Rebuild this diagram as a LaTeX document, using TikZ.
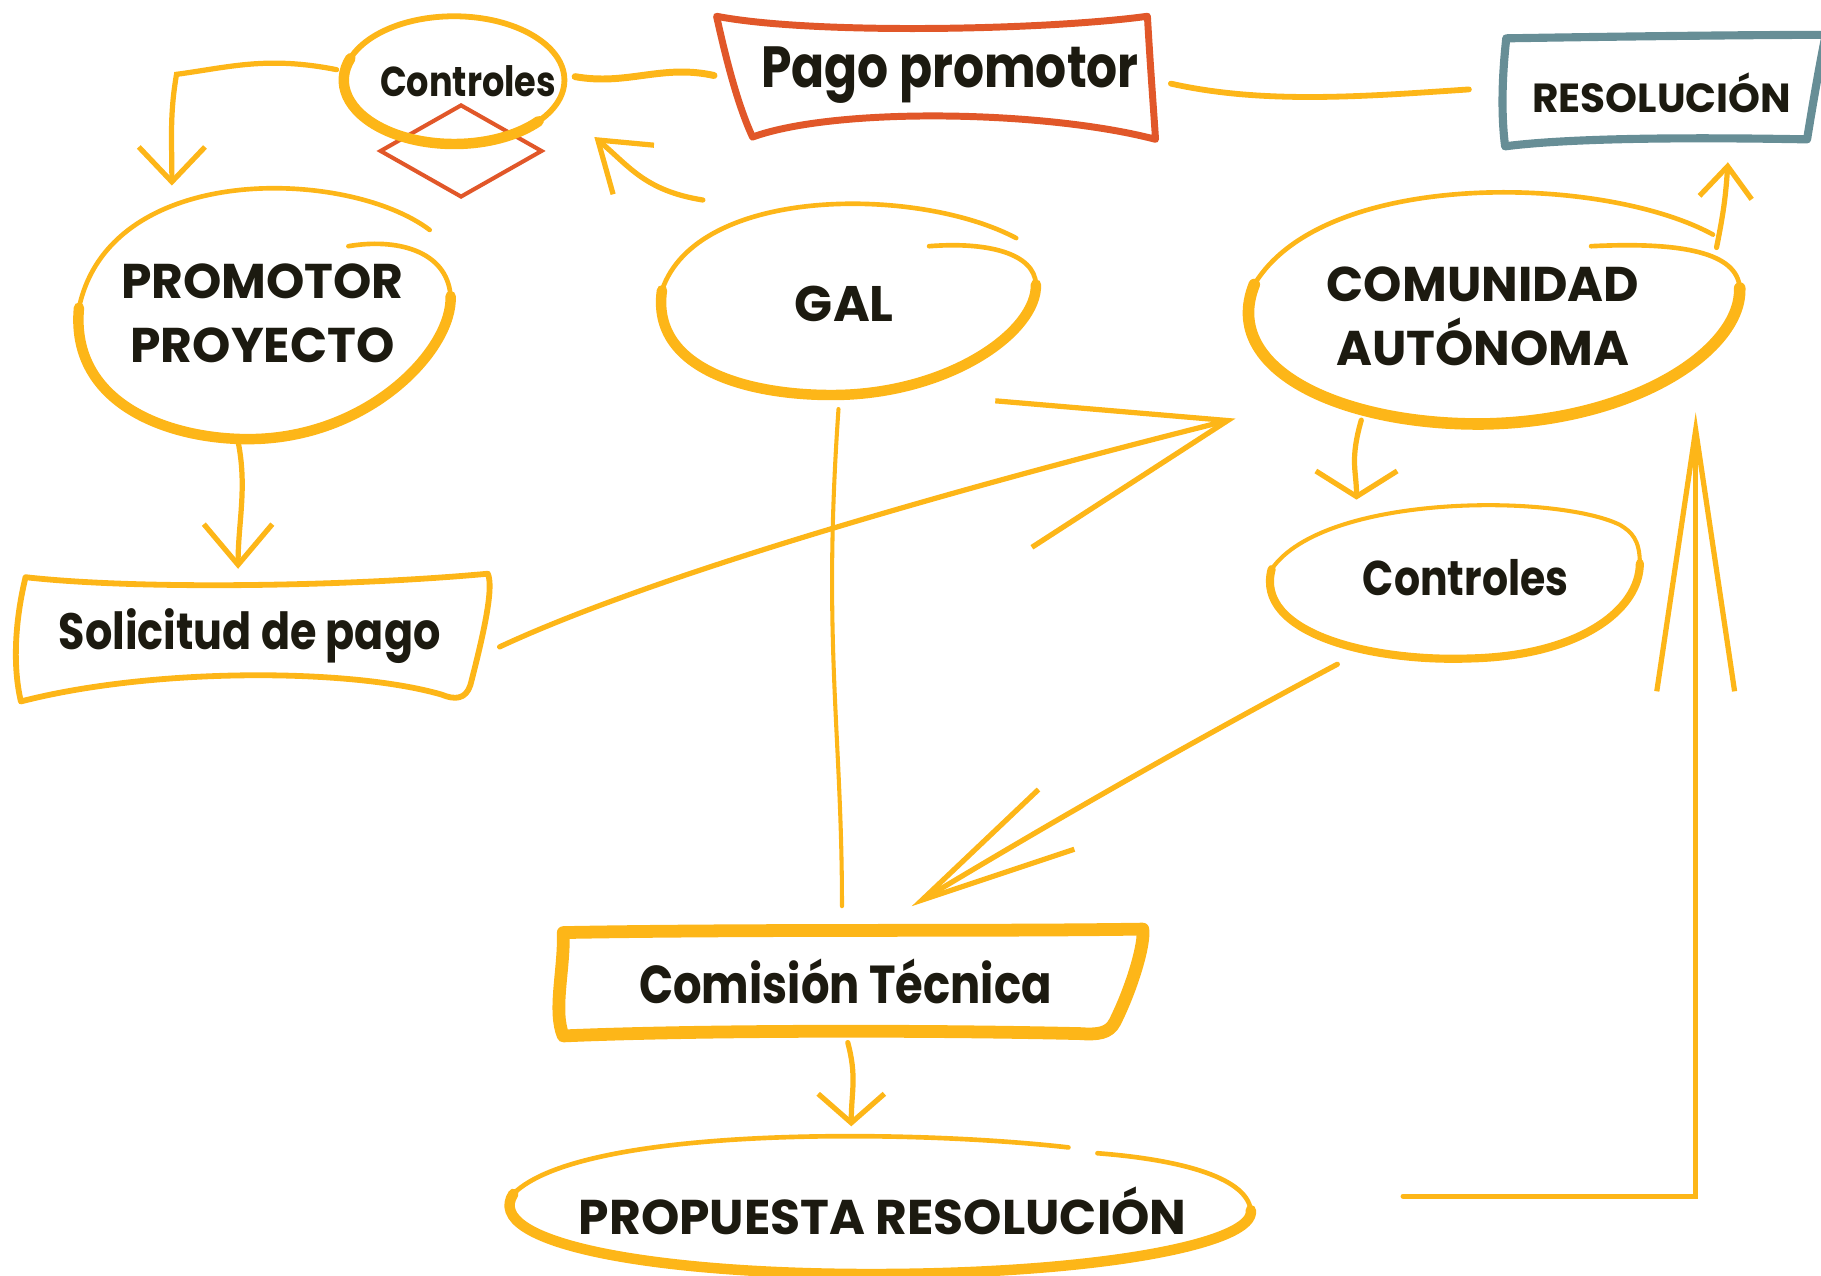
\documentclass[tikz,border=0pt]{standalone}
\usepackage{fontspec}
\setmainfont{Poppins}
\newfontfamily\narrow{Poppins}[FakeStretch=0.84]
\usetikzlibrary{arrows.meta,shapes.geometric}
\definecolor{gold}{RGB}{253,182,24}
\definecolor{brick}{RGB}{225,87,41}
\definecolor{slate}{RGB}{103,142,150}
\definecolor{ink}{RGB}{28,26,16}

\begin{document}
\begin{tikzpicture}[x=1pt,y=-1pt,
 lbl/.style={text=ink,inner sep=0pt,align=center},
 oval/.style={lbl,ellipse},
 box/.style={lbl,rectangle},
 rim/.style={draw=#1,line width=4pt,line cap=round,line join=round},
 link/.style={draw=gold,line width=4.5pt,line cap=round},
 head/.style={-{Straight Barb[#1]}}]
\useasboundingbox (0,0) rectangle (1568,1098);

\node [box,minimum width=190pt,minimum height=110pt,font=\narrow\fontsize{36}{42}\selectfont\bfseries] (ctrlA) at (403,70) {Controles};
\node [diamond,draw=brick,line width=3.5pt,minimum width=140pt,minimum height=80pt,inner sep=0pt] (check) at (397,130) {};
\node [box,minimum width=370pt,minimum height=105pt,font=\narrow\fontsize{50}{56}\selectfont\bfseries] (pago) at (818,65) {Pago promotor};
\node [box,minimum width=268pt,minimum height=95pt,font=\fontsize{35}{40}\selectfont\bfseries] (resol) at (1431,80) {RESOLUCIÓN};
\node [oval,minimum width=322pt,minimum height=218pt,font=\fontsize{42}{55}\selectfont\bfseries] (promotor) at (226,270) {PROMOTOR\\PROYECTO};
\node [oval,minimum width=325pt,minimum height=168pt,font=\fontsize{43}{50}\selectfont\bfseries] (gal) at (727,262) {GAL};
\node [oval,minimum width=430pt,minimum height=200pt,font=\fontsize{42}{55}\selectfont\bfseries] (comunidad) at (1277,272) {COMUNIDAD\\AUTÓNOMA};
\node [oval,minimum width=322pt,minimum height=135pt,font=\narrow\fontsize{42}{48}\selectfont\bfseries] (ctrlB) at (1262,497) {Controles};
\node [box,minimum width=410pt,minimum height=108pt,font=\narrow\fontsize{44}{50}\selectfont\bfseries] (solicitud) at (215,548) {Solicitud de pago};
\node [box,minimum width=510pt,minimum height=95pt,font=\narrow\fontsize{46}{52}\selectfont\bfseries] (comision) at (728,845) {Comisión Técnica};
\node [oval,minimum width=640pt,minimum height=118pt,font=\fontsize{42}{48}\selectfont\bfseries] (propuesta) at (760,1043) {PROPUESTA RESOLUCIÓN};

\draw[rim=gold,line width=5pt] (391,69) ellipse [x radius=95,y radius=55];
\draw[rim=gold,line width=9pt] (391,69) ++(40:95 and 55) arc [start angle=40,end angle=200,x radius=95,y radius=55];
\draw[rim=gold,line width=4pt] (370,198) .. controls (300,145) and (95,138) .. (68,265) .. controls (60,350) and (150,380) .. (220,378) .. controls (320,375) and (390,300) .. (388,255) .. controls (385,215) and (340,205) .. (300,212);
\draw[rim=gold,line width=9pt] (68,265) .. controls (60,350) and (150,380) .. (220,378) .. controls (320,375) and (390,300) .. (388,255);
\draw[rim=gold,line width=4pt] (875,205) .. controls (790,160) and (600,160) .. (570,250) .. controls (560,320) and (650,342) .. (725,340) .. controls (820,337) and (893,285) .. (892,245) .. controls (891,218) and (850,208) .. (800,212);
\draw[rim=gold,line width=9pt] (570,250) .. controls (560,320) and (650,342) .. (725,340) .. controls (820,337) and (893,285) .. (892,245);
\draw[rim=gold,line width=4pt] (1475,202) .. controls (1380,150) and (1140,145) .. (1080,245) .. controls (1050,320) and (1160,367) .. (1280,365) .. controls (1410,362) and (1500,300) .. (1498,248) .. controls (1496,218) and (1450,208) .. (1370,212);
\draw[rim=gold,line width=10pt] (1080,245) .. controls (1050,320) and (1160,367) .. (1280,365) .. controls (1410,362) and (1500,300) .. (1498,248);
\draw[rim=gold,line width=3.5pt] (1395,452) .. controls (1340,425) and (1140,425) .. (1095,490) .. controls (1080,545) and (1180,570) .. (1265,567) .. controls (1360,565) and (1412,525) .. (1412,485) .. controls (1412,465) and (1405,458) .. (1395,452);
\draw[rim=gold,line width=7pt] (1095,490) .. controls (1080,545) and (1180,570) .. (1265,567) .. controls (1360,565) and (1412,525) .. (1412,485);
\draw[rim=gold,line width=4pt] (920,988) .. controls (780,972) and (500,970) .. (442,1028) .. controls (415,1070) and (560,1097) .. (750,1097) .. controls (950,1097) and (1082,1070) .. (1077,1042) .. controls (1073,1012) and (1010,998) .. (945,993);
\draw[rim=gold,line width=9pt] (442,1028) .. controls (415,1070) and (560,1097) .. (750,1097) .. controls (950,1097) and (1082,1070) .. (1077,1042);

\draw[rim=brick,line width=6pt] (617,14) .. controls (700,30) and (900,26) .. (988,14) .. controls (990,50) and (993,90) .. (995,120) .. controls (900,95) and (720,92) .. (648,118) .. controls (635,90) and (625,50) .. cycle;
\draw[rim=slate,line width=7pt] (1297,33) .. controls (1420,31) and (1520,30) .. (1572,30) .. controls (1566,60) and (1560,95) .. (1556,120) .. controls (1450,118) and (1350,119) .. (1296,126) .. controls (1292,95) and (1294,60) .. cycle;
\draw[rim=gold,line width=5pt] (22,497) .. controls (120,508) and (300,505) .. (420,494) .. controls (425,505) and (418,540) .. (405,590) .. controls (401,602) and (392,603) .. (380,598) .. controls (300,575) and (130,575) .. (18,604) .. controls (10,570) and (14,530) .. cycle;
\draw[rim=gold,line width=11pt] (485,803) .. controls (650,800) and (850,802) .. (984,800) .. controls (986,812) and (975,850) .. (960,880) .. controls (955,890) and (945,891) .. (930,890) .. controls (800,887) and (600,887) .. (485,892) .. controls (476,870) and (486,835) .. cycle;

\draw[link,line width=6pt] ([shift={(-18,0)}]pago.west) .. controls +(-45,-10) and +(45,8) .. ([shift={(-3,-4)}]ctrlA.east);
\draw[link,head={length=30pt,width=57pt}] ([shift={(-18,-10)}]ctrlA.west) .. controls +(-60,-12) and +(45,-6) .. (152,64) .. controls +(-6,35) and +(0,-40) .. ([shift={(-78,-1)}]promotor.north);
\draw[link,head={length=40pt,width=55pt}] ([shift={(-47,-15)}]gal.135) .. controls +(-50,-8) and +(30,25) .. ([shift={(43,-12)}]check.east);
\draw[link,line width=5pt] ([shift={(5,7)}]pago.east) .. controls +(80,18) and +(-90,6) .. ([shift={(-32,-3)}]resol.west);
\draw[link,head={length=27pt,width=45pt}] ([shift={(49,12)}]comunidad.25) .. controls +(6,-30) and +(-2,30) .. ([shift={(0,12)}]resol.-40);
\draw[link,head={length=35pt,width=59pt}] ([shift={(-21,1)}]promotor.south) .. controls +(8,40) and +(0,-40) .. ([shift={(-10,-4)}]solicitud.north);
\draw[link,head={length=190pt,width=130pt}] ([shift={(10,9)}]solicitud.east) .. controls +(150,-70) and +(-180,45) .. ([shift={(-94,5)}]comunidad.215);
\draw[link,line width=3.5pt] ([shift={(-5,6)}]gal.south) .. controls +(-14,200) and +(0,-150) .. ([shift={(-3,-17)}]comision.north);
\draw[link,head={length=22pt,width=70pt}] ([shift={(-49,-7)}]comunidad.-120) .. controls +(-10,35) and +(0,-25) .. ([shift={(-56,-1)}]ctrlB.120);
\draw[link,head={length=135pt,width=60pt}] ([shift={(-65,10)}]ctrlB.-125) .. controls +(-150,80) and +(100,-60) .. ([shift={(57,-17)}]comision.north);
\draw[link,head={length=25pt,width=57pt}] ([shift={(2,5)}]comision.south) .. controls +(8,30) and +(0,-30) .. ([shift={(-27,-14)}]propuesta.north);
\draw[link,head={length=225pt,width=67pt}] ([shift={(78,-13)}]propuesta.east) -| ([shift={(48,5)}]comunidad.-30);
\end{tikzpicture}
\end{document}
